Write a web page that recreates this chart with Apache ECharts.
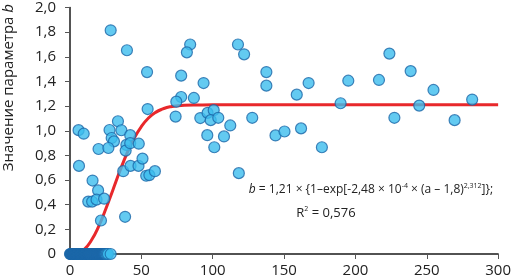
<!DOCTYPE html>
<html>
<head>
<meta charset="utf-8">
<script src="https://cdn.jsdelivr.net/npm/echarts@6/dist/echarts.min.js"></script>
<style>html,body{margin:0;padding:0;background:#fff}#c{width:514px;height:279px}</style>
</head>
<body>
<div id="c"></div>
<script>
// Scatter: a (x) and b (y) values
var pointsA = [6.0, 9.6, 6.3, 15.8, 19.7, 12.8, 15.5, 18.6, 23.9, 21.7, 38.6, 28.5, 39.9, 54.0, 27.7, 33.6, 36.0, 42.2, 29.2, 30.8, 20.0, 26.9, 39.5, 39.0, 42.2, 48.2, 37.3, 42.4, 48.0, 50.8, 53.4, 55.6, 59.5, 54.4, 84.2, 81.9, 77.9, 93.6, 77.9, 74.5, 86.8, 74.0, 91.3, 96.4, 100.7, 98.6, 103.9, 96.2, 107.9, 101.1, 112.3, 117.7, 122.0, 127.7, 137.6, 137.6, 144.0, 150.3, 161.9, 158.9, 167.2, 176.5, 189.6, 195.0, 216.5, 223.8, 238.7, 254.7, 244.7, 227.3, 269.5, 281.8, 118.3];
var pointsB = [1.005, 0.976, 0.715, 0.596, 0.516, 0.425, 0.425, 0.441, 0.449, 0.272, 0.302, 1.815, 1.653, 1.476, 1.006, 1.077, 1.004, 0.964, 0.941, 0.914, 0.852, 0.860, 0.885, 0.839, 0.899, 0.895, 0.672, 0.715, 0.715, 0.774, 0.635, 0.640, 0.672, 1.176, 1.700, 1.636, 1.447, 1.387, 1.274, 1.236, 1.266, 1.115, 1.103, 1.145, 1.167, 1.086, 1.105, 0.964, 0.954, 0.866, 1.043, 1.700, 1.620, 1.105, 1.476, 1.366, 0.962, 0.994, 1.019, 1.293, 1.387, 0.866, 1.223, 1.406, 1.412, 1.626, 1.484, 1.331, 1.204, 1.105, 1.086, 1.253, 0.656];
// points lying on zero
var zeroA = [0, 0.4, 0.8, 1.2, 1.6, 2, 2.4, 2.8, 3.2, 3.6, 4, 4.4, 4.8, 5.2, 5.6, 6, 6.4, 6.8, 7.2, 7.6, 8, 8.4, 8.8, 9.2, 9.6, 10, 10.4, 10.8, 11.2, 11.6, 12, 12.4, 12.8, 13.2, 13.6, 14, 14.5, 15, 15.5, 16, 16.5, 17, 17.5, 18, 18.5, 19, 19.5, 20, 20.5, 21, 21.5, 22, 22.5, 23, 23.5, 24, 25, 25.8, 26.6, 28.5];
// fitted curve
var curveA = [1.8, 5, 10, 15, 20, 25, 30, 35, 40, 45, 50, 55, 60, 65, 70, 80, 90, 100, 150, 200, 250, 300];
var curveB = [0, 0.004, 0.038, 0.111, 0.222, 0.363, 0.518, 0.675, 0.819, 0.940, 1.034, 1.103, 1.149, 1.177, 1.194, 1.207, 1.209, 1.21, 1.21, 1.21, 1.21, 1.21];
var xTicks = [0, 50, 100, 150, 200, 250, 300];
var yTicks = [0, 0.2, 0.4, 0.6, 0.8, 1.0, 1.2, 1.4, 1.6, 1.8, 2.0];

var FONT = 'Open Sans';
var scatterData = pointsA.map(function (a, i) { return [a, pointsB[i]]; });
var zeroData = zeroA.map(function (a) { return [a, 0]; });
var curveData = curveA.map(function (a, i) { return [a, curveB[i]]; });

var chart = echarts.init(document.getElementById('c'), null, {renderer: 'canvas'});
chart.setOption({
  animation: false,
  backgroundColor: '#fff',
  grid: {left: 70, right: 13, top: 6, bottom: 25, containLabel: false},
  xAxis: {
    type: 'value', min: xTicks[0], max: xTicks[xTicks.length - 1], interval: 50,
    axisLine: {show: true, lineStyle: {color: '#1a1a1a', width: 1.5}},
    axisTick: {show: true, length: 5, lineStyle: {color: '#555'}},
    splitLine: {show: false},
    axisLabel: {color: '#222', fontFamily: FONT, fontSize: 15, margin: 9}
  },
  yAxis: {
    type: 'value', min: yTicks[0], max: yTicks[yTicks.length - 1], interval: 0.2,
    axisLine: {show: true, onZero: false, lineStyle: {color: '#1a1a1a', width: 1.5}},
    axisTick: {show: true, length: 5, lineStyle: {color: '#555'}},
    splitLine: {show: false},
    axisLabel: {color: '#222', fontFamily: FONT, fontSize: 15, margin: 14,
      formatter: function (v) { return v === 0 ? '0' : v.toFixed(1).replace('.', ','); }}
  },
  series: [
    {type: 'line', data: curveData, smooth: true, showSymbol: false, z: 2,
     lineStyle: {color: '#e8282b', width: 3}},
    {type: 'scatter', data: zeroData, symbolSize: 11, z: 3,
     itemStyle: {borderColor: '#1b67a8', borderWidth: 1.2,
       color: function (p) { return p.value[0] < 24.5 ? '#1f6fb3' : '#3cbdee'; }}},
    {type: 'scatter', data: scatterData, symbolSize: 11, z: 3,
     itemStyle: {color: '#3cbdee', borderColor: '#1b67a8', borderWidth: 1.2}}
  ],
  graphic: [
    {type: 'text', x: 9, y: 4, rotation: Math.PI / 2,
     style: {text: 'Значение параметра {i|b}', fill: '#222', font: '15px "Open Sans"', align: 'right', verticalAlign: 'middle',
       rich: {i: {fontStyle: 'italic', fontFamily: FONT, fontSize: 15, fill: '#222'}}}},
    {type: 'text', x: 371, y: 190,
     style: {text: '{i|b} = 1,21 × {1–exp[-2,48 × 10{sup|-4} × (a – 1,8){sup|2,312}]};', fill: '#222',
       font: '12px "Open Sans"', align: 'center', verticalAlign: 'middle',
       rich: {i: {fontStyle: 'italic', fontFamily: FONT, fontSize: 12, fill: '#222', lineHeight: 15},
              sup: {fontFamily: FONT, fontSize: 7, fill: '#222', verticalAlign: 'top', lineHeight: 15}}}},
    {type: 'text', x: 326, y: 213,
     style: {text: 'R{sup|2} = 0,576', fill: '#222', font: '13px "Open Sans"', align: 'center', verticalAlign: 'middle',
       rich: {sup: {fontFamily: FONT, fontSize: 7, fill: '#222', verticalAlign: 'top', lineHeight: 15}}}}
  ]
});
</script>
</body>
</html>
